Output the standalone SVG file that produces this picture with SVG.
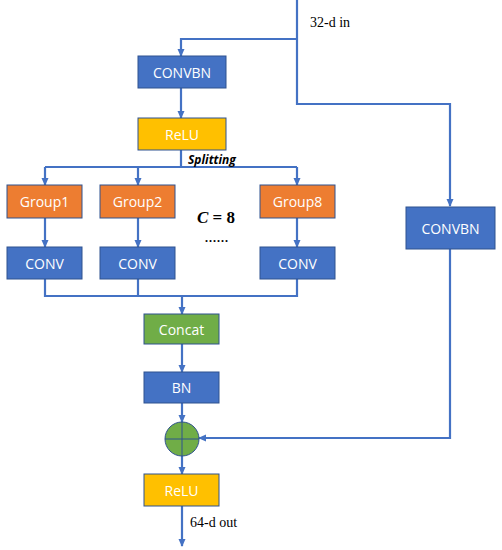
<svg xmlns="http://www.w3.org/2000/svg" width="502" height="550" viewBox="0 0 502 550">
<defs>
<marker id="ah" markerWidth="8" markerHeight="8" refX="7" refY="4" orient="auto" markerUnits="userSpaceOnUse">
<path d="M0,0.5 L8,4 L0,7.5 Z" fill="#4472C4"/>
</marker>
<style>
.box{stroke:#2F528F;stroke-width:1}
.blue{fill:#4472C4}.orange{fill:#ED7D31}.yellow{fill:#FFC000}.green{fill:#70AD47}
.lbl{font-family:"Open Sans","Liberation Sans",sans-serif;font-size:14px;fill:#fff;text-anchor:middle;dominant-baseline:central}
.ln{fill:none;stroke:#4472C4;stroke-width:2.2}
.serif{font-family:"Liberation Serif",serif;font-size:14px;fill:#000}
</style>
</defs>
<rect width="502" height="550" fill="#fff"/>
<g id="connectors">
<path class="ln" d="M297,0 V104 H450 V206" marker-end="url(#ah)"/>
<path class="ln" d="M297,39 H181 V56" marker-end="url(#ah)"/>
<path class="ln" d="M181,88 V118" marker-end="url(#ah)"/>
<path class="ln" d="M181,150 V167"/>
<path class="ln" d="M45,167 H297"/>
<path class="ln" d="M45,167 V185" marker-end="url(#ah)"/>
<path class="ln" d="M138,167 V185" marker-end="url(#ah)"/>
<path class="ln" d="M297,167 V185" marker-end="url(#ah)"/>
<path class="ln" d="M45,218 V247" marker-end="url(#ah)"/>
<path class="ln" d="M138,218 V247" marker-end="url(#ah)"/>
<path class="ln" d="M297,218 V247" marker-end="url(#ah)"/>
<path class="ln" d="M45,279 V296 H297 V279"/>
<path class="ln" d="M138,279 V296"/>
<path class="ln" d="M182,296 V314" marker-end="url(#ah)"/>
<path class="ln" d="M182,344 V372" marker-end="url(#ah)"/>
<path class="ln" d="M182,403 V422" marker-end="url(#ah)"/>
<path class="ln" d="M450,249 V438 H199" marker-end="url(#ah)"/>
<path class="ln" d="M182,456 V474" marker-end="url(#ah)"/>
<path class="ln" d="M182,506 V546" marker-end="url(#ah)"/>
</g>
<g id="n_convbn1"><rect class="box blue" x="138" y="56" width="88" height="32"/><text class="lbl" x="182" y="72">CONVBN</text></g>
<g id="n_relu1"><rect class="box yellow" x="138" y="118" width="88" height="32"/><text class="lbl" x="182" y="134">ReLU</text></g>
<g id="n_group1"><rect class="box orange" x="7" y="185" width="75" height="33"/><text class="lbl" x="44.5" y="201.5">Group1</text></g>
<g id="n_group2"><rect class="box orange" x="100" y="185" width="75" height="33"/><text class="lbl" x="137.5" y="201.5">Group2</text></g>
<g id="n_group8"><rect class="box orange" x="260" y="185" width="75" height="33"/><text class="lbl" x="297.5" y="201.5">Group8</text></g>
<g id="n_conv1"><rect class="box blue" x="7" y="247" width="75" height="32"/><text class="lbl" x="44.5" y="263">CONV</text></g>
<g id="n_conv2"><rect class="box blue" x="100" y="247" width="75" height="32"/><text class="lbl" x="137.5" y="263">CONV</text></g>
<g id="n_conv8"><rect class="box blue" x="260" y="247" width="75" height="32"/><text class="lbl" x="297.5" y="263">CONV</text></g>
<g id="n_concat"><rect class="box green" x="144" y="314" width="75" height="30"/><text class="lbl" x="181.5" y="329">Concat</text></g>
<g id="n_bn"><rect class="box blue" x="144" y="372" width="75" height="31"/><text class="lbl" x="181.5" y="387.5">BN</text></g>
<g id="n_add"><circle cx="182" cy="439" r="17" fill="#70AD47" stroke="#2F528F" stroke-width="1"/><path d="M165,439 H199 M182,422 V456" stroke="#2F528F" stroke-width="1"/></g>
<g id="n_relu2"><rect class="box yellow" x="144" y="474" width="75" height="32"/><text class="lbl" x="181.5" y="490">ReLU</text></g>
<g id="n_convbn2"><rect class="box blue" x="406" y="207" width="89" height="42"/><text class="lbl" x="450.5" y="228">CONVBN</text></g>
<g id="labels">
<text class="serif" x="310" y="27">32-d in</text>
<text x="188" y="164" font-family="'Open Sans','Liberation Sans',sans-serif" font-size="12" font-weight="bold" font-style="italic" fill="#000">Splitting</text>
<text x="197" y="223" font-family="'Liberation Serif',serif" font-size="17" font-weight="bold" fill="#000"><tspan font-style="italic">C</tspan> = 8</text>
<text x="205" y="242" font-family="'Liberation Serif',serif" font-size="12" font-weight="bold" letter-spacing="1" fill="#000">......</text>
<text class="serif" x="190" y="527">64-d out</text>
</g>
</svg>
